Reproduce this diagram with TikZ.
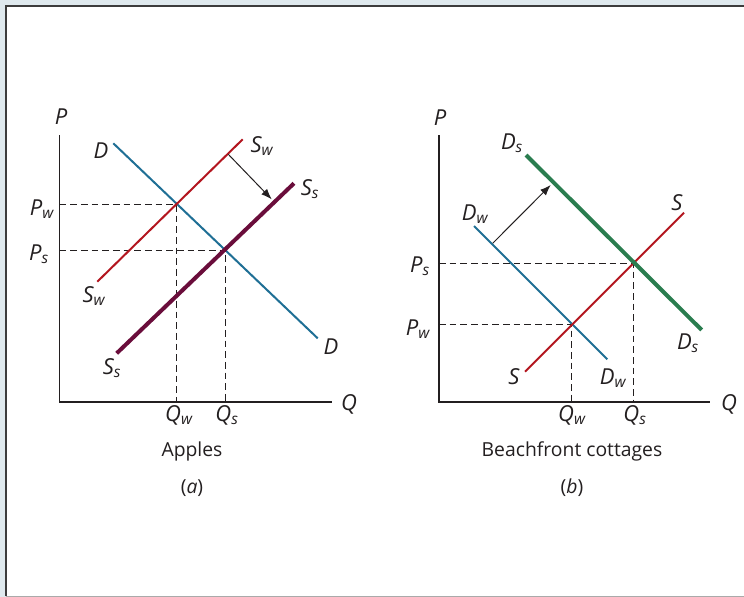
\documentclass[tikz,border=0pt]{standalone}
\usepackage{fontspec}
\setmainfont{Open Sans}
\usetikzlibrary{arrows.meta}
\usepackage{xcolor}
\definecolor{ink}{HTML}{231F20}
\definecolor{demand}{HTML}{1F6F95}
\definecolor{supply}{HTML}{B3161F}
\definecolor{supplyS}{HTML}{6A0D3B}
\definecolor{demandS}{HTML}{2A7D4F}
\definecolor{frame}{HTML}{DFE9EE}
\definecolor{edge}{HTML}{3C3C3C}
\definecolor{rule}{HTML}{AAAAAA}
\tikzset{
  >=Latex,
  every node/.style={text=ink,font=\fontsize{13}{15}\selectfont},
  axis/.style={draw=ink,line width=1.1pt},
  curve/.style={line width=1.5pt},
  thickcurve/.style={line width=3pt},
  guide/.style={draw=ink,dash pattern=on 5pt off 3pt,line width=0.9pt},
  shiftarrow/.style={-{Latex[length=8pt,width=6pt]},draw=ink,line width=0.75pt},
  lab/.style={font=\fontsize{16.5}{18}\selectfont\itshape,inner sep=1pt},
  caption/.style={font=\fontsize{14.5}{17}\selectfont,inner sep=1pt},
}
\newcommand{\sym}[2]{#1\textsubscript{#2}}

\begin{document}
\begin{tikzpicture}[x=0.75pt,y=-0.75pt]
\useasboundingbox (0,0) rectangle (744,597);
% frame
\fill[frame] (0,0) rectangle (744,597);
\fill[white] (6,6) rectangle (744,596);
\draw[edge,line width=1.8pt] (6,596) -- (6,6) -- (744,6);
\draw[rule,line width=1pt] (6,596.5) -- (744,596.5);

% (a) apples
\coordinate (aO) at (59.5,402);
\coordinate (aP) at (59.5,135);
\coordinate (aQ) at (332,402);
\draw[axis] (aP) -- (aO) -- (aQ);
\node[lab] (aPlab) at (61,117) {P};
\node[lab] (aQlab) at (349,404) {Q};

\coordinate (aD1) at (113.3,143.3);
\coordinate (aD2) at (317.7,338.3);
\coordinate (aSw1) at (97.3,281.7);
\coordinate (aSw2) at (242.7,139.3);
\coordinate (aSs1) at (116.7,353.3);
\coordinate (aSs2) at (294,183.3);
\coordinate (aEw) at (176.5,204.5);
\coordinate (aEs) at (225.5,250.5);
\coordinate (aPw) at (59.5,204.5);
\coordinate (aPs) at (59.5,250.5);
\coordinate (aQw) at (176.5,402);
\coordinate (aQs) at (225.5,402);

\draw[guide] (aPw) -- (aEw) -- (aQw);
\draw[guide] (aPs) -- (aEs) -- (aQs);
\draw[curve,draw=demand] (aD1) -- (aD2);
\draw[curve,draw=supply] (aSw1) -- (aSw2);
\draw[thickcurve,draw=supplyS] (aSs1) -- (aSs2);

\coordinate (aA1) at (228.3,154.3);
\coordinate (aA2) at (271.7,199.3);
\draw[shiftarrow] (aA1) -- (aA2);

\node[lab] (aDtop) at (101,151) {D};
\node[lab] (aDbot) at (331,347) {D};
\node[lab] (aSwtop) at (262,146) {\sym{S}{w}};
\node[lab] (aSwbot) at (94,296) {\sym{S}{w}};
\node[lab] (aSstop) at (310,189) {\sym{S}{s}};
\node[lab] (aSsbot) at (112,368) {\sym{S}{s}};
\node[lab] (aPwlab) at (42,209) {\sym{P}{w}};
\node[lab] (aPslab) at (39,254) {\sym{P}{s}};
\node[lab] (aQwlab) at (179,415) {\sym{Q}{w}};
\node[lab] (aQslab) at (227,415) {\sym{Q}{s}};
\node[caption] (aname) at (192,451) {Apples};
\node[caption] (atag) at (192,488) {(\textit{a})};

% (b) beachfront cottages
\coordinate (bO) at (439,402);
\coordinate (bP) at (439,135);
\coordinate (bQ) at (710,402);
\draw[axis] (bP) -- (bO) -- (bQ);
\node[lab] (bPlab) at (440,118) {P};
\node[lab] (bQlab) at (729,404) {Q};

\coordinate (bDs1) at (526,155);
\coordinate (bDs2) at (701.7,330);
\coordinate (bDw1) at (474,226);
\coordinate (bDw2) at (607.3,359.3);
\coordinate (bS1) at (525,371.7);
\coordinate (bS2) at (684,212.7);
\coordinate (bEs) at (633.5,263.5);
\coordinate (bEw) at (571.5,324.5);
\coordinate (bPs) at (439,263.5);
\coordinate (bPw) at (439,324.5);
\coordinate (bQs) at (633.5,402);
\coordinate (bQw) at (571.5,402);

\draw[guide] (bPs) -- (bEs) -- (bQs);
\draw[guide] (bPw) -- (bEw) -- (bQw);
\draw[curve,draw=demand] (bDw1) -- (bDw2);
\draw[curve,draw=supply] (bS1) -- (bS2);
\draw[thickcurve,draw=demandS] (bDs1) -- (bDs2);

\coordinate (bA1) at (492.7,243.3);
\coordinate (bA2) at (550.7,185);
\draw[shiftarrow] (bA1) -- (bA2);

\node[lab] (bDstop) at (512,143) {\sym{D}{s}};
\node[lab] (bDsbot) at (688,343) {\sym{D}{s}};
\node[lab] (bDwtop) at (475,214) {\sym{D}{w}};
\node[lab] (bDwbot) at (613,378) {\sym{D}{w}};
\node[lab] (bStop) at (677,203) {S};
\node[lab] (bSbot) at (514,377) {S};
\node[lab] (bPslab) at (420,266) {\sym{P}{s}};
\node[lab] (bPwlab) at (418,329) {\sym{P}{w}};
\node[lab] (bQwlab) at (572,415) {\sym{Q}{w}};
\node[lab] (bQslab) at (635,415) {\sym{Q}{s}};
\node[caption] (bname) at (572,451) {Beachfront cottages};
\node[caption] (btag) at (572,488) {(\textit{b})};

\end{tikzpicture}
\end{document}
